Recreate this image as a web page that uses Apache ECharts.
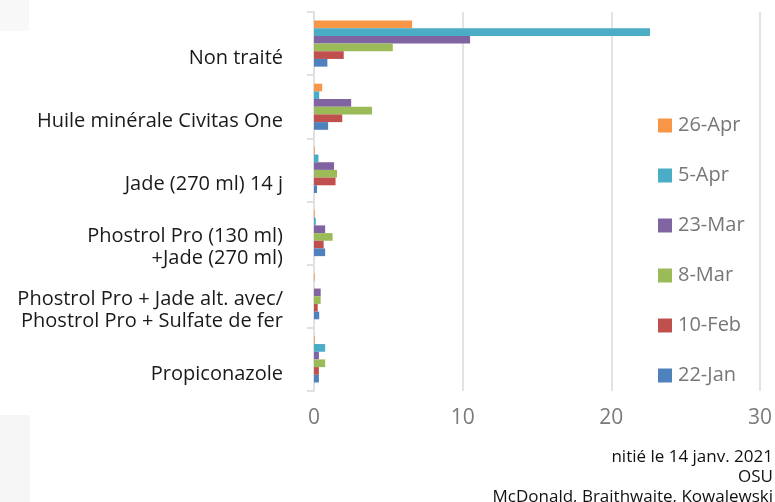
<!DOCTYPE html>
<html><head><meta charset="utf-8">
<script src="https://cdn.jsdelivr.net/npm/echarts@6/dist/echarts.min.js"></script>
<style>html,body{margin:0;padding:0;background:#fff}#c{width:775px;height:502px}</style>
</head><body><div id="c"></div>
<script>
const categories = ["Non traité", "Huile minérale Civitas One", "Jade (270 ml) 14 j", "Phostrol Pro (130 ml)\n+Jade (270 ml)", "Phostrol Pro + Jade alt. avec/\nPhostrol Pro + Sulfate de fer", "Propiconazole"];
const seriesNames = ["26-Apr", "5-Apr", "23-Mar", "8-Mar", "10-Feb", "22-Jan"];
const apr26 = [6.6, 0.55, 0.05, 0.05, 0.05, 0.05];
const apr5 = [22.6, 0.35, 0.3, 0.12, 0, 0.75];
const mar23 = [10.5, 2.5, 1.35, 0.75, 0.45, 0.33];
const mar8 = [5.3, 3.9, 1.55, 1.25, 0.45, 0.75];
const feb10 = [2.0, 1.9, 1.45, 0.65, 0.25, 0.33];
const jan22 = [0.9, 0.95, 0.2, 0.75, 0.35, 0.33];
const xTicks = [0, 10, 20, 30];
const footnotes = ["nitié le 14 janv. 2021", "OSU", "McDonald, Braithwaite, Kowalewski"];
const colors = ["#F79646", "#4BACC6", "#8064A2", "#9BBB59", "#C0504D", "#4F81BD"];
const values = [apr26, apr5, mar23, mar8, feb10, jan22];

const chart = echarts.init(document.getElementById('c'));
chart.setOption({
  animation: false,
  grid: {left: 314, right: 15, top: 12, bottom: 111, containLabel: false},
  legend: {
    orient: 'vertical', left: 653, top: 107, itemGap: 23, itemWidth: 14, itemHeight: 14,
    icon: 'rect', data: seriesNames,
    textStyle: {fontFamily: 'Open Sans', fontSize: 20, color: '#777', padding: [0,0,0,1], lineHeight: 27}
  },
  xAxis: {
    type: 'value', min: xTicks[0], max: xTicks[xTicks.length-1], interval: 10,
    axisLine: {show: false}, axisTick: {show: false},
    splitLine: {show: true, lineStyle: {color: '#e3e3e3', width: 2}},
    axisLabel: {fontFamily: 'Open Sans', fontSize: 21, color: '#7a7a7a', margin: 17,
      formatter: v => xTicks.includes(v) ? String(v) : ''}
  },
  yAxis: {
    type: 'category', data: categories, inverse: true,
    axisLine: {show: true, lineStyle: {color: '#e0e0e0', width: 2}},
    axisTick: {show: true, length: 7, lineStyle: {color: '#e0e0e0', width: 2}},
    axisLabel: {fontFamily: 'Open Sans', fontSize: 20, color: '#1a1a1a', margin: 31, align: 'right',
      formatter: v => '{p| }\n' + v.split('\n').map(l => '{a|' + l + '}').join('\n'),
      rich: {
        p: {fontSize: 10, lineHeight: 29},
        a: {fontFamily: 'Open Sans', fontSize: 20, color: '#1a1a1a', lineHeight: 22, align: 'right'}
      }}
  },
  series: seriesNames.map((n, i) => ({
    name: n, type: 'bar', data: values[i], barGap: '0%', barCategoryGap: '27%',
    itemStyle: {color: colors[i]}
  })),
  graphic: [
    {type: 'rect', shape: {x: 0, y: 0, width: 29, height: 31}, style: {fill: '#f8f8f8'}, silent: true},
    {type: 'rect', shape: {x: 0, y: 415, width: 30, height: 87}, style: {fill: '#f5f5f5'}, silent: true}
  ].concat(footnotes.map((t, i) => ({
    type: 'text', x: 773, y: 457 + i * 20,
    style: {text: t, fontFamily: 'Open Sans', fontSize: 17, fill: '#111', align: 'right', verticalAlign: 'middle'}
  })))
});
</script></body></html>
